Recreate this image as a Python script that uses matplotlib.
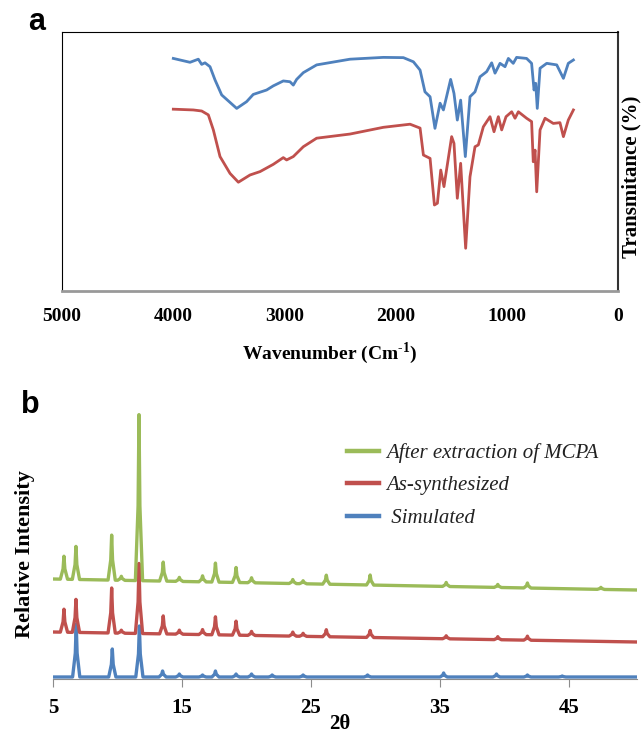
import numpy as np
import matplotlib
matplotlib.use('Agg')
import matplotlib.pyplot as plt
from matplotlib.lines import Line2D

plt.rcParams['font.family'] = ['Liberation Serif', 'DejaVu Serif']
plt.rcParams['mathtext.fontset'] = 'custom'
plt.rcParams['mathtext.bf'] = 'Liberation Serif:bold'
plt.rcParams['mathtext.rm'] = 'Liberation Serif:bold'

BLUE = '#4F81BD'
RED = '#C0504D'
GREEN = '#9BBB59'

# ---- panel a: FTIR (wavenumber, transmittance %) ----
ir_blue_wn = [3999, 3849, 3774, 3744, 3714, 3669, 3624, 3564, 3429, 3340, 3280, 3160,
              3100, 3010, 2950, 2920, 2890, 2830, 2710, 2410, 2110, 1930, 1840, 1780,
              1736, 1690, 1646, 1600, 1570, 1505, 1475, 1445, 1415, 1373, 1331, 1286,
              1241, 1181, 1136, 1106, 1061, 1016, 986, 942, 912, 822, 777, 755, 740,
              726, 701, 641, 551, 491, 447, 401]
ir_blue_t = [89.8, 88.3, 89.5, 87.5, 88.1, 86.6, 81.5, 75.7, 70.5, 73.1, 75.9, 77.6,
             79.2, 81.1, 80.8, 79.5, 81.7, 84.3, 87.3, 89.5, 90.2, 90.1, 88.5, 85.3,
             76.9, 75.0, 62.8, 72.5, 69.9, 81.7, 76.3, 66.0, 73.7, 51.9, 75.0, 76.9,
             82.7, 84.7, 88.1, 84.1, 87.9, 86.6, 89.8, 87.9, 90.2, 89.8, 87.9, 77.6, 80.2,
             70.5, 86.0, 87.9, 87.3, 82.1, 87.9, 89.2]

ir_red_wn = [3999, 3819, 3744, 3684, 3639, 3579, 3489, 3414, 3309, 3219, 3100, 3010,
             2980, 2920, 2830, 2710, 2410, 2110, 1870, 1780, 1750, 1690, 1651, 1624,
             1594, 1565, 1496, 1475, 1445, 1415, 1370, 1331, 1286, 1256, 1211, 1151,
             1115, 1076, 1046, 1007, 956, 926, 896, 822, 777, 762, 746, 731, 701, 656,
             582, 522, 491, 447, 401]
ir_red_t = [70.2, 69.9, 69.5, 68.0, 62.2, 51.9, 45.4, 42.0, 44.8, 46.1, 48.9, 51.5,
            50.6, 51.9, 55.7, 59.0, 60.6, 63.2, 64.4, 62.9, 52.5, 51.2, 33.2, 33.9,
            46.7, 40.3, 59.6, 57.0, 35.8, 49.3, 16.5, 44.1, 55.7, 56.4, 63.4, 67.3,
            61.5, 67.3, 62.2, 67.3, 69.2, 66.7, 69.2, 66.7, 65.4, 49.9, 54.4, 38.3, 62.2, 66.7,
            64.7, 65.0, 59.6, 66.0, 69.9]

ir_ticks = [5000, 4000, 3000, 2000, 1000, 0]

# ---- panel b: XRD peaks (2theta, height above baseline) ----
xrd_green_pos = [5.85, 6.78, 9.55, 10.3, 11.67, 13.55, 14.8, 16.6, 17.6, 19.2, 20.4,
                 23.6, 24.4, 26.2, 29.6, 35.5, 39.5, 41.8, 47.5]
xrd_green_h = [23, 33, 45, 4, 166, 19, 4, 6, 19, 15, 5, 4, 3, 9, 10, 4, 3, 5, 2]
xrd_green_base = [100, 89]   # baseline level at 2theta = 5 and 50

xrd_red_pos = [5.85, 6.78, 9.55, 10.3, 11.67, 13.55, 14.8, 16.6, 17.6, 19.2, 20.4,
               23.6, 24.4, 26.2, 29.6, 35.5, 39.5, 41.8]
xrd_red_h = [23, 33, 45, 3, 70, 18, 4, 5, 18, 14, 4, 4, 3, 7, 7, 3, 3, 4]
xrd_red_base = [47, 37]

xrd_blue_pos = [6.8, 9.6, 11.7, 13.5, 14.8, 16.6, 17.6, 19.2, 20.4, 22.0, 24.4, 29.4,
                35.3, 39.4, 41.8, 44.5]
xrd_blue_h = [53, 28, 51, 6, 3, 2, 6, 3, 3, 2, 2, 2, 4, 3, 2, 1]
xrd_blue_base = [2, 2]

xrd_ticks = [5, 15, 25, 35, 45]
series_labels = ['After extraction of MCPA', 'As-synthesized', ' Simulated']


def peak_trace(pos, heights, base, half=0.28):
    # baseline straight from 5 to 50 deg with a spike at every peak
    xs = [5.0]
    ys = [base[0]]
    for p, h in zip(pos, heights):
        for x, extra in ((p - half, 0), (p - half / 4, h * 0.45), (p, h),
                         (p + half / 4, h * 0.45), (p + half, 0)):
            b = base[0] + (base[1] - base[0]) * (x - 5) / 45
            xs.append(x)
            ys.append(b + extra)
    xs.append(50.3)
    ys.append(base[1])
    return np.array(xs), np.array(ys)


W, H = 641, 737
fig = plt.figure(figsize=(W / 100, H / 100), dpi=100)

# panel a
ax_a = fig.add_axes([62 / W, 1 - 291 / H, (618 - 62) / W, (291 - 32) / H])
ax_a.plot(ir_blue_wn, ir_blue_t, color=BLUE, lw=2)
ax_a.plot(ir_red_wn, ir_red_t, color=RED, lw=2)
ax_a.set_xlim(5000, 0)
ax_a.set_ylim(0, 100)
ax_a.set_xticks(ir_ticks)
ax_a.set_xticklabels([str(t) for t in ir_ticks], fontsize=14, fontweight='bold')
ax_a.set_yticks([])
ax_a.tick_params(axis='x', length=0, pad=12)
ax_a.spines['left'].set_color('black')
ax_a.spines['left'].set_linewidth(0.8)
ax_a.spines['top'].set_linewidth(0.8)
ax_a.spines['bottom'].set_color('#999999')
ax_a.spines['bottom'].set_linewidth(2)
ax_a.spines['right'].set_color('#333333')
ax_a.spines['right'].set_linewidth(1.5)

fig.text(330 / W, 1 - 353 / H, r'Wavenumber (Cm$^{\text{-1}}$)', ha='center', va='center',
         fontsize=14, fontweight='bold')
fig.text(631 / W, 1 - 177 / H, 'Transmitance (%)', rotation=90, ha='center', va='center',
         fontsize=15, fontweight='bold')
fig.text(37 / W, 1 - 22 / H, 'a', ha='center', va='center', fontsize=22,
         fontweight='bold', family='Liberation Sans')

# panel b
ax_b = fig.add_axes([53 / W, 1 - 679 / H, (637 - 53) / W, 274 / H])
colors = [GREEN, RED, BLUE]
traces = [(xrd_green_pos, xrd_green_h, xrd_green_base),
          (xrd_red_pos, xrd_red_h, xrd_red_base),
          (xrd_blue_pos, xrd_blue_h, xrd_blue_base)]
for (pos, hts, base), c in zip(traces[::-1], colors[::-1]):
    x, y = peak_trace(pos, hts, base)
    ax_b.plot(x, y, color=c, lw=2.4, solid_joinstyle='round')
ax_b.set_xlim(5, 50.3)
ax_b.set_ylim(0, 274)
ax_b.set_xticks(xrd_ticks)
ax_b.set_xticklabels([str(t) for t in xrd_ticks], fontsize=15, fontweight='bold')
ax_b.set_yticks([])
for s in ['left', 'right', 'top']:
    ax_b.spines[s].set_visible(False)
ax_b.spines['bottom'].set_color('#8c8c8c')
ax_b.tick_params(axis='x', direction='out', length=6, color='#8c8c8c', pad=8)

handles = [Line2D([], [], color=c, lw=3.2) for c in colors]
leg = ax_b.legend(handles, series_labels, loc='upper left', frameon=False,
                  bbox_to_anchor=(347 / W, 1 - 443 / H), bbox_transform=fig.transFigure,
                  borderpad=0, borderaxespad=0, handlelength=1.55, handletextpad=0.33,
                  labelspacing=0.62, prop={'style': 'italic', 'size': 15})
for t in leg.get_texts():
    t.set_color('#222222')

fig.text(340 / W, 1 - 724 / H, '2θ', ha='center', va='center', fontsize=15, fontweight='bold')
fig.text(25 / W, 1 - 554 / H, 'Relative Intensity', rotation=90, ha='center', va='center',
         fontsize=16, fontweight='bold')
fig.text(30 / W, 1 - 405 / H, 'b', ha='center', va='center', fontsize=22,
         fontweight='bold', family='Liberation Sans')

fig.savefig('out.png', dpi=100)
